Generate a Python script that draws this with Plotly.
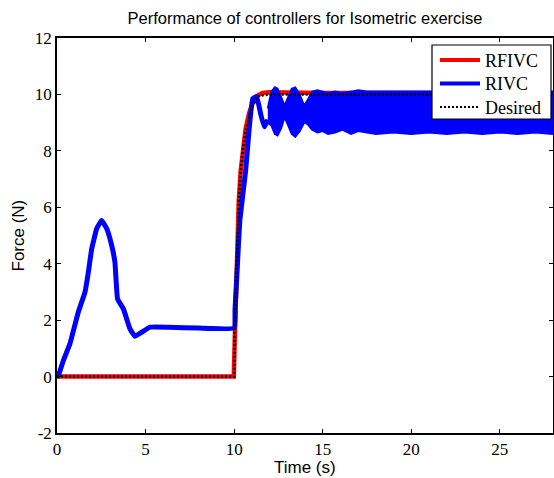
import plotly.graph_objects as go

# ---- data ----
t_des = [0, 10.0, 10.03, 10.1, 10.16, 10.26, 10.37, 10.5, 10.65, 10.85, 11.05, 11.35, 11.7, 12.2, 28]
y_des = [0, 0, 1.5, 3.0, 4.4, 6.2, 7.3, 8.1, 8.7, 9.2, 9.6, 9.93, 9.98, 10.0, 10.0]

t_rfivc = [0, 2.0, 2.5, 3.0, 3.5, 5.0, 9.98, 10.03, 10.1, 10.16, 10.26, 10.37, 10.5, 10.65, 10.85,
           11.05, 11.35, 11.6, 12.0, 13.0, 15.0, 20.0, 28.0]
y_rfivc = [0, 0.0, 0.03, 0.0, 0.02, 0.0, 0.0, 1.2, 2.8, 4.4, 6.2, 7.3, 8.2, 8.8, 9.35,
           9.7, 9.97, 10.05, 10.08, 10.06, 10.05, 10.05, 10.05]

t_rivc = [0, 0.07, 0.36, 0.73, 1.2, 1.58, 1.77, 1.96, 2.24, 2.52, 2.81, 3.09, 3.27, 3.42,
          3.75, 4.12, 4.4, 4.78, 5.25, 6.3, 8.0, 10.0, 10.05, 10.17, 10.32, 10.65,
          10.85, 11.05, 11.27, 11.5, 11.7, 11.9]
y_rivc = [0, 0.03, 0.57, 1.16, 2.28, 2.99, 3.7, 4.53, 5.24, 5.53, 5.24, 4.64, 4.05, 2.75,
          2.4, 1.69, 1.43, 1.57, 1.75, 1.75, 1.72, 1.72, 2.4, 3.76, 5.53, 7.3,
          8.8, 9.85, 9.93, 9.3, 8.85, 9.1]

# oscillation band of RIVC (upper / lower envelopes)
t_band = [11.9, 12.1, 12.3, 12.45, 12.65, 12.85, 13.05, 13.25, 13.45, 13.7, 13.95, 14.15,
          14.4, 14.7, 15.0, 15.3, 15.7, 16.1, 16.6, 17.0, 17.5, 18, 19, 20, 21, 22, 23, 24,
          25, 26, 27, 28]
band_upper = [9.5, 10.1, 10.25, 10.2, 9.9, 9.6, 9.9, 10.2, 10.25, 10.0, 9.6, 9.8,
              10.1, 10.15, 10.1, 10.05, 10.1, 10.05, 10.1, 10.15, 10.1, 10.1, 10.12, 10.1,
              10.1, 10.12, 10.1, 10.1, 10.1, 10.1, 10.1, 10.1]
band_lower = [9.0, 8.9, 8.6, 8.55, 8.8, 9.2, 8.9, 8.6, 8.5, 8.7, 9.0, 8.95,
              8.75, 8.65, 8.7, 8.6, 8.65, 8.75, 8.6, 8.7, 8.65, 8.6, 8.65, 8.6,
              8.65, 8.6, 8.65, 8.6, 8.65, 8.6, 8.65, 8.6]

x_ticks = [0, 5, 10, 15, 20, 25]
y_ticks = [-2, 0, 2, 4, 6, 8, 10, 12]

series_names = ["RFIVC", "RIVC", "Desired"]

BLUE = "#0000ff"
RED = "#ff0000"

# plot-area geometry in pixels (for placing the hand-made legend)
L, R, T, B = 57, 553, 38, 433
PW, PH = R - L, B - T


def px(x):
    return (x - L) / PW


def py(y):
    return (B - y) / PH


fig = go.Figure()
fig.add_trace(go.Scatter(x=t_rfivc, y=y_rfivc, mode="lines", name=series_names[0],
                         line=dict(color=RED, width=4.5)))
fig.add_trace(go.Scatter(x=t_band + t_band[::-1], y=band_upper + band_lower[::-1],
                         mode="lines", fill="toself", fillcolor=BLUE,
                         line=dict(color=BLUE, width=2), showlegend=False,
                         hoverinfo="skip"))
fig.add_trace(go.Scatter(x=t_rivc, y=y_rivc, mode="lines", name=series_names[1],
                         line=dict(color=BLUE, width=5, shape="spline", smoothing=0.3)))
fig.add_trace(go.Scatter(x=t_des, y=y_des, mode="lines", name=series_names[2],
                         line=dict(color="black", width=2.5, dash="2px,2px")))

axis_common = dict(showline=True, linecolor="black", linewidth=1.5, mirror="ticks",
                   ticks="inside", ticklen=4, tickcolor="black", showgrid=False,
                   zeroline=False, automargin=False,
                   tickfont=dict(family="Liberation Serif", size=17, color="black"))

# hand-made legend (box, sample lines, labels)
legend_rows = [60, 83.5, 107]
legend_styles = [dict(color=RED, width=4), dict(color=BLUE, width=4),
                 dict(color="black", width=2, dash="2px,2px")]
shapes = [dict(type="rect", xref="paper", yref="paper", x0=px(432), x1=px(551),
               y0=py(119), y1=py(45), fillcolor="white",
               line=dict(color="black", width=1.2), layer="above")]
annotations = []
for name, row, st in zip(series_names, legend_rows, legend_styles):
    shapes.append(dict(type="line", xref="paper", yref="paper", x0=px(440), x1=px(480),
                       y0=py(row), y1=py(row), line=st, layer="above"))
    annotations.append(dict(text=name, xref="paper", yref="paper", x=px(483), y=py(row + 1),
                            xanchor="left", yanchor="middle", showarrow=False,
                            font=dict(family="Liberation Serif", size=18, color="black")))

annotations += [
    dict(text="Time (s)", xref="paper", yref="paper", x=0.5, y=py(467),
         xanchor="center", yanchor="middle", showarrow=False,
         font=dict(family="Liberation Sans", size=17, color="black")),
    dict(text="Force (N)", xref="paper", yref="paper", x=px(18), y=0.5,
         xanchor="center", yanchor="middle", textangle=-90, showarrow=False,
         font=dict(family="Liberation Sans", size=17, color="black")),
]

fig.update_layout(
    width=554, height=478,
    margin=dict(l=L, r=554 - R, t=T, b=478 - B),
    paper_bgcolor="white", plot_bgcolor="white",
    showlegend=False,
    title=dict(text="Performance of controllers for Isometric exercise",
               x=305 / 554, xref="container", xanchor="center",
               y=1 - 18 / 478, yref="container", yanchor="middle",
               font=dict(family="Liberation Sans", size=16.5, color="black")),
    xaxis=dict(range=[0, 28], tickvals=x_ticks, ticktext=[str(v) for v in x_ticks],
               **axis_common),
    yaxis=dict(range=[-2, 12], tickvals=y_ticks, ticktext=[str(v) for v in y_ticks],
               **axis_common),
    shapes=shapes,
    annotations=annotations,
)

fig.write_html("out.html", config={"displayModeBar": False},
               post_script="document.body.style.margin='0px';document.body.style.padding='0px';")
